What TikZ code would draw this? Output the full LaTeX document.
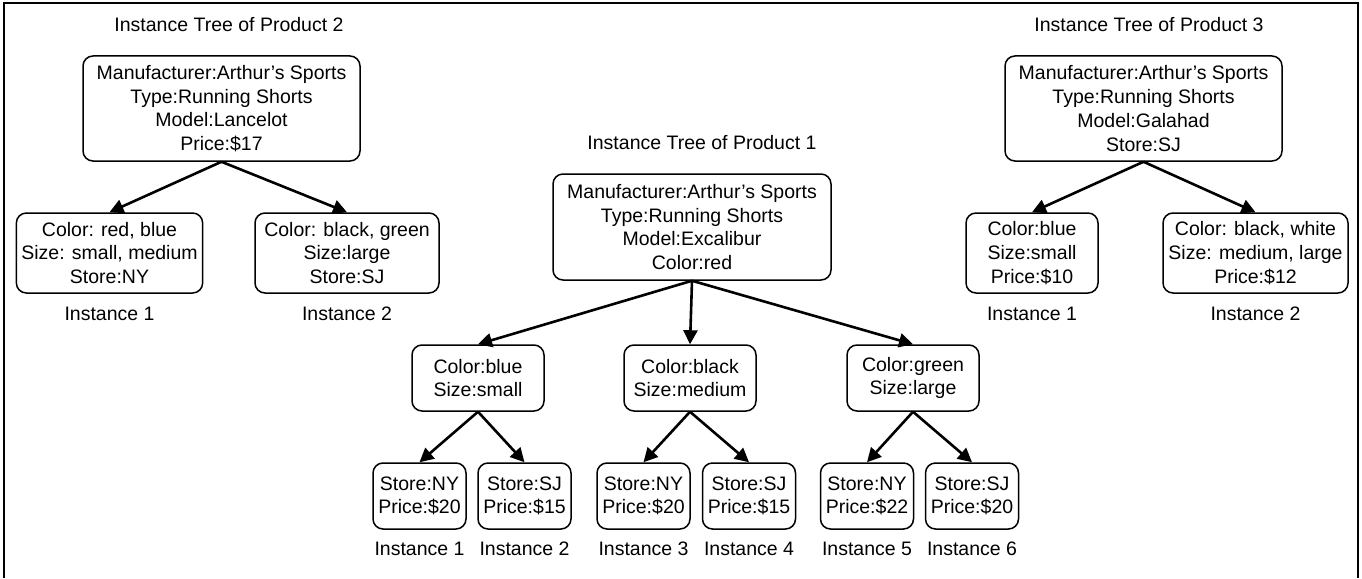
\documentclass[tikz,border=0pt]{standalone}
\usepackage{fontspec}
\setmainfont{Liberation Sans}
\usepackage{tikz}
\usetikzlibrary{arrows.meta}
\tikzset{
  instbase/.style={
    draw=black,
    rounded corners=10pt,
    line width=1.5pt,
    align=center,
    inner xsep=5pt,
    inner ysep=3pt,
    font=\fontsize{19.5pt}{23.7pt}\selectfont
  },
  instroot/.style={
    instbase,
    minimum width=277pt,
    minimum height=105pt
  },
  instkid/.style={
    instbase,
    minimum width=132pt,
    minimum height=80pt
  },
  instmid/.style={
    instbase,
    minimum width=132pt,
    minimum height=66pt
  },
  instleaf/.style={
    instbase,
    minimum width=93pt,
    minimum height=66pt
  },
  insttext/.style={
    inner sep=0pt,
    font=\fontsize{19.5pt}{23.7pt}\selectfont
  },
  instline/.style={
    draw=black,
    -{Triangle[length=14pt,width=14pt]},
    line width=2.6pt
  }
}

\begin{document}
\begin{tikzpicture}[x=1pt,y=-1pt]
  \useasboundingbox (0,0) rectangle (1362,578);
  \draw[line width=2pt] (4,578) -- (4,3) -- (1358,3) -- (1358,578);
  % product 2
  \node[insttext] (title2) at (229,25) {Instance Tree of Product 2};
  \node[instroot] (root2) at (221.5,108.5) {Manufacturer:Arthur's Sports\\Type:Running Shorts\\Model:Lancelot\\Price:\$17};
  \node[instkid,minimum width=185pt] (kid21) at (109.5,253) {Color: red, blue\\Size: small, medium\\Store:NY};
  \node[instkid,minimum width=184pt] (kid22) at (347,253) {Color: black, green\\Size:large\\Store:SJ};
  \node[insttext] (cap21) at (109.5,314) {Instance 1};
  \node[insttext] (cap22) at (347,314) {Instance 2};
  % product 3
  \node[insttext] (title3) at (1149,25) {Instance Tree of Product 3};
  \node[instroot] (root3) at (1143.5,108.5) {Manufacturer:Arthur's Sports\\Type:Running Shorts\\Model:Galahad\\Store:SJ};
  \node[instkid] (kid31) at (1032,253) {Color:blue\\Size:small\\Price:\$10};
  \node[instkid,minimum width=185pt] (kid32) at (1255.5,253) {Color: black, white\\Size: medium, large\\Price:\$12};
  \node[insttext] (cap31) at (1032,314) {Instance 1};
  \node[insttext] (cap32) at (1255.5,314) {Instance 2};
  % product 1
  \node[insttext] (title1) at (702,143) {Instance Tree of Product 1};
  \node[instroot,minimum width=278pt,minimum height=106pt] (root1) at (692,227) {Manufacturer:Arthur's Sports\\Type:Running Shorts\\Model:Excalibur\\Color:red};
  \node[instmid] (mid1) at (478,378) {Color:blue\\Size:small};
  \node[instmid] (mid2) at (690,378) {Color:black\\Size:medium};
  \node[instmid] (mid3) at (913,378) {Color:green\\Size:large};
  \node[instleaf] (leaf1) at (419.5,496) {Store:NY\\Price:\$20};
  \node[instleaf] (leaf2) at (524.5,496) {Store:SJ\\Price:\$15};
  \node[instleaf] (leaf3) at (643.5,496) {Store:NY\\Price:\$20};
  \node[instleaf] (leaf4) at (749,496) {Store:SJ\\Price:\$15};
  \node[instleaf] (leaf5) at (867,496) {Store:NY\\Price:\$22};
  \node[instleaf] (leaf6) at (972,496) {Store:SJ\\Price:\$20};
  \foreach \n/\x in {1/419.5,2/524.5,3/643.5,4/749,5/867,6/972}{\node[insttext] (cap1\n) at (\x,549) {Instance \n};}
  \foreach \src/\dst in {root2/kid21,root2/kid22,root3/kid31,root3/kid32,root1/mid1,root1/mid2,root1/mid3,mid1/leaf1,mid1/leaf2,mid2/leaf3,mid2/leaf4,mid3/leaf5,mid3/leaf6}{\draw[instline] (\src.south) -- (\dst.north);}
\end{tikzpicture}
\end{document}
